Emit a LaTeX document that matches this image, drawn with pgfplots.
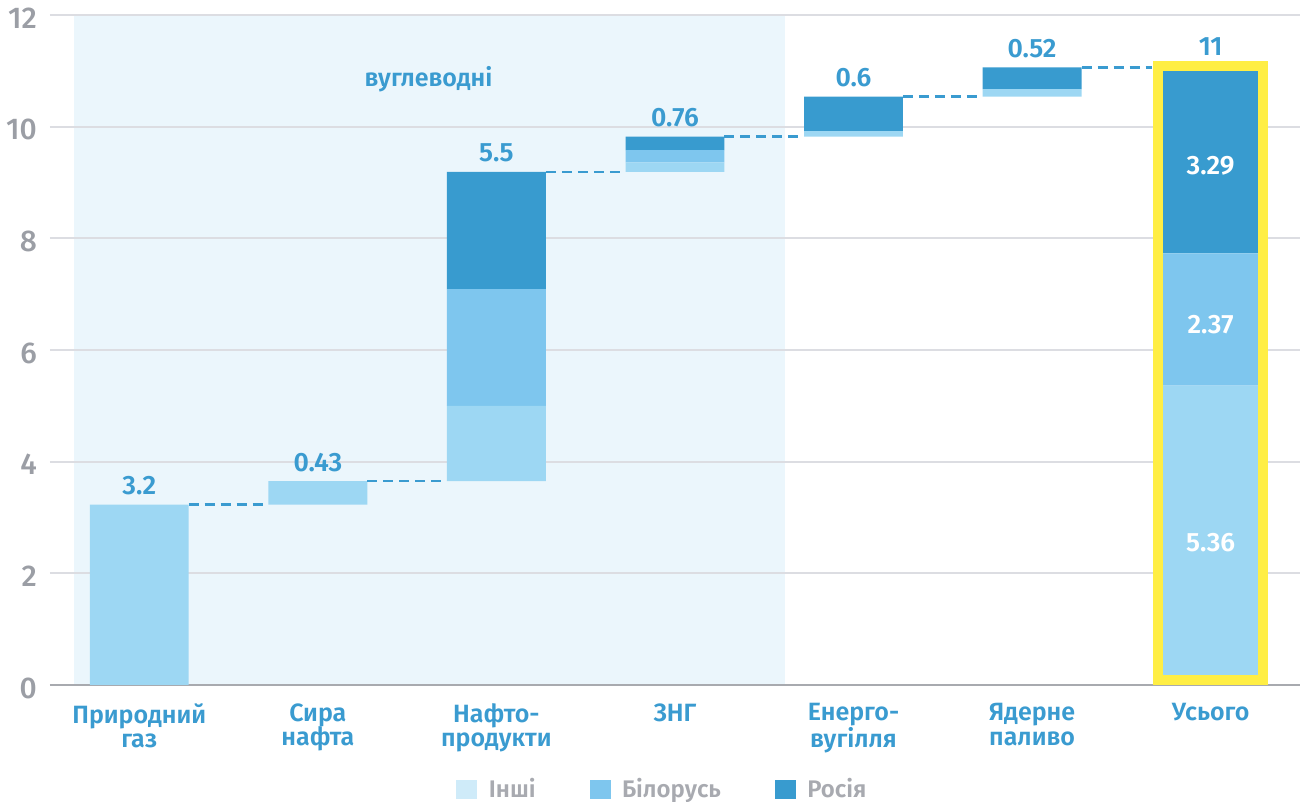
\documentclass[border=0pt]{standalone}
\usepackage{fontspec}
\setmainfont{Fira Sans}
\newfontfamily\semib{Fira Sans SemiBold}
\newfontfamily\med{Fira Sans Medium}
\usepackage{pgfplots}
\pgfplotsset{compat=1.18}
\usepackage{pgfplotstable}

\definecolor{lightc}{HTML}{9DD7F3}
\definecolor{belc}{HTML}{7EC6EE}
\definecolor{rusc}{HTML}{389BCF}
\definecolor{othleg}{HTML}{CFEBF9}
\definecolor{shadec}{HTML}{EBF6FC}
\definecolor{gridc}{HTML}{DCDDE2}
\definecolor{axisc}{HTML}{A8AAAF}
\definecolor{tickc}{HTML}{9B9EA5}
\definecolor{textblue}{HTML}{3A9BD0}
\definecolor{yellowc}{HTML}{FFEE44}
\definecolor{legtext}{HTML}{A8AAB0}

% x: category index; base: invisible offset; oth: Інші; bel: Білорусь; rus: Росія
\pgfplotstableread{
x base oth bel rus
0 0     3.23 0    0
1 3.23  0.42 0    0
2 3.65  1.35 2.09 2.10
3 9.19  0.17 0.22 0.24
4 9.82  0.10 0    0.62
5 10.54 0.13 0    0.39
6 0     5.36 2.37 3.29
}\bars

\pgfplotsset{common/.style={
  scale only axis, width=1250pt, height=670pt,
  xmin=-0.5, xmax=6.5, ymin=0, ymax=12, enlargelimits=false,
  at={(50pt,117pt)}, anchor=south west}}

\newcommand{\vfont}{\fontsize{26.5}{26.5}\selectfont\semib}

\begin{document}
\begin{tikzpicture}
\useasboundingbox (0,0) rectangle (1300pt,802pt);

% background band
\begin{axis}[common, hide axis]
\addplot[fill=shadec, draw=none] coordinates {(-0.366,0) (3.616,0) (3.616,12) (-0.366,12)} -- cycle;
\end{axis}

% main axis with stacked bars
\begin{axis}[common, ybar stacked, bar width=0.554,
  axis x line*=bottom, axis y line*=left,
  y axis line style={draw=none},
  x axis line style={draw=axisc, line width=2.5pt},
  ymajorgrids, grid style={gridc, line width=2pt},
  major tick length=0pt,
  ytick={0,2,4,6,8,10,12},
  xtick={0,1,2,3,4,5,6},
  xticklabels={{Природний\\газ},{Сира\\нафта},{Нафто-\\продукти},{ЗНГ},{Енерго-\\вугілля},{Ядерне\\паливо},{Усього}},
  xticklabel style={align=center, font=\fontsize{25}{24.5}\selectfont\semib, text=textblue, anchor=north, yshift=-15pt},
  yticklabel style={font=\fontsize{30}{30}\selectfont\med, text=tickc, anchor=east, inner xsep=0pt, xshift=-13pt, yshift=-3pt},
  /pgf/number format/assume math mode=true,
]
\addplot[fill=none, draw=none, forget plot] table[x=x, y=base] {\bars};
\addplot[fill=lightc, draw=none, forget plot] table[x=x, y=oth] {\bars};
\addplot[fill=belc, draw=none, forget plot] table[x=x, y=bel] {\bars};
\addplot[fill=rusc, draw=none, forget plot] table[x=x, y=rus] {\bars};
\end{axis}

% overlay: connectors, highlight, labels, legend
\begin{axis}[common, hide axis,
  legend columns=3,
  legend style={at={(0.49,-0.155)}, anchor=center, draw=none, fill=none,
    font=\fontsize{24}{24}\selectfont\semib, text=legtext,
    /tikz/every odd column/.append style={column sep=10pt},
    /tikz/every even column/.append style={column sep=52pt}},
  legend image code/.code={\fill[#1] (0pt,-9pt) rectangle (20pt,9pt);},
]
\addplot[textblue, line width=2.5pt, dash pattern=on 10pt off 6pt, forget plot] coordinates {(0.277,3.23) (0.723,3.23)};
\addplot[textblue, line width=2.5pt, dash pattern=on 10pt off 6pt, forget plot] coordinates {(1.277,3.65) (1.723,3.65)};
\addplot[textblue, line width=2.5pt, dash pattern=on 10pt off 6pt, forget plot] coordinates {(2.277,9.19) (2.723,9.19)};
\addplot[textblue, line width=2.5pt, dash pattern=on 10pt off 6pt, forget plot] coordinates {(3.277,9.82) (3.723,9.82)};
\addplot[textblue, line width=2.5pt, dash pattern=on 10pt off 6pt, forget plot] coordinates {(4.277,10.54) (4.723,10.54)};
\addplot[textblue, line width=2.5pt, dash pattern=on 10pt off 6pt, forget plot] coordinates {(5.277,11.06) (5.672,11.06)};
\addplot[draw=yellowc, line width=10pt, forget plot] coordinates {(5.703,0.09) (6.293,0.09) (6.293,11.087) (5.703,11.087)} -- cycle;

\addlegendimage{othleg}
\addlegendimage{belc}
\addlegendimage{rusc}
\legend{Інші, Білорусь, Росія}

\node[anchor=base, yshift=10pt, font=\vfont, text=textblue] at (axis cs:0,3.23) {3.2};
\node[anchor=base, yshift=10pt, font=\vfont, text=textblue] at (axis cs:1,3.65) {0.43};
\node[anchor=base, yshift=10pt, font=\vfont, text=textblue] at (axis cs:2,9.19) {5.5};
\node[anchor=base, yshift=10pt, font=\vfont, text=textblue] at (axis cs:3,9.82) {0.76};
\node[anchor=base, yshift=10pt, font=\vfont, text=textblue] at (axis cs:4,10.54) {0.6};
\node[anchor=base, yshift=10pt, font=\vfont, text=textblue] at (axis cs:5,11.06) {0.52};
\node[anchor=base, yshift=10pt, font=\vfont, text=textblue] at (axis cs:6,11.1) {11};
\node[font=\vfont, text=white] at (axis cs:6,9.30) {3.29};
\node[font=\vfont, text=white] at (axis cs:6,6.455) {2.37};
\node[font=\vfont, text=white] at (axis cs:6,2.55) {5.36};
\node[anchor=base, font=\fontsize{25}{25}\selectfont\semib, text=textblue] at (axis cs:1.62,10.72) {вуглеводні};
\end{axis}
\end{tikzpicture}
\end{document}
